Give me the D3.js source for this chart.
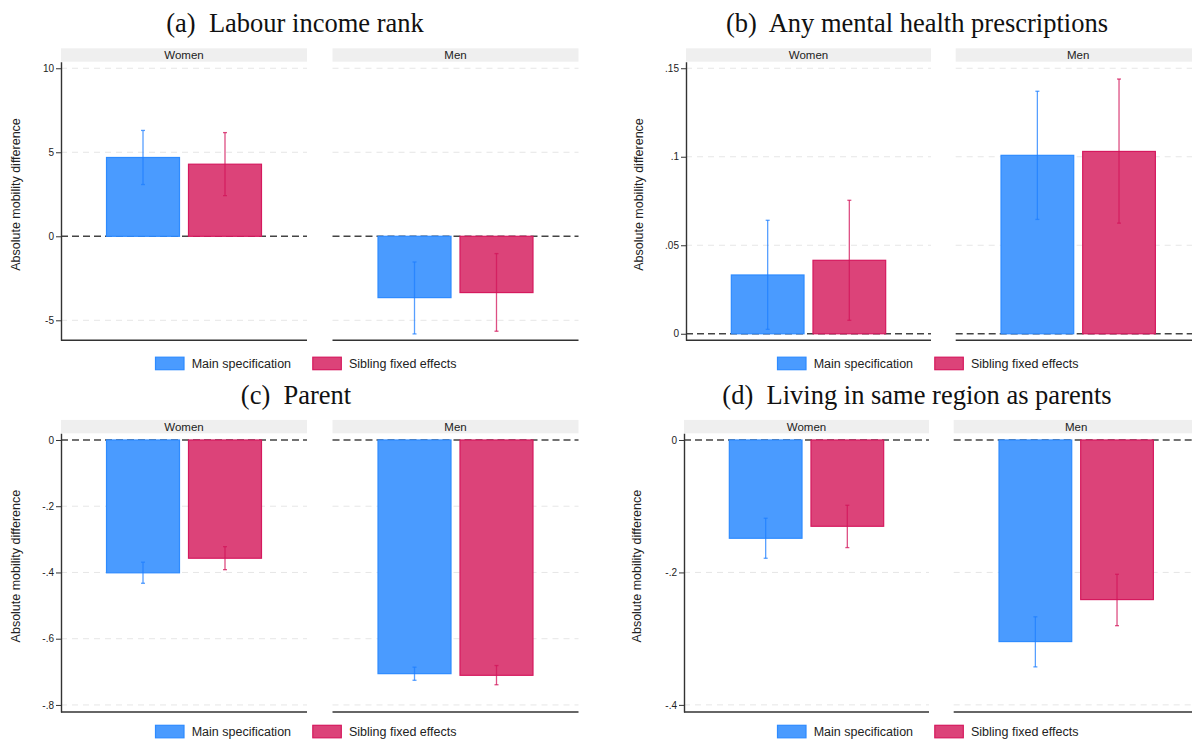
<!DOCTYPE html>
<html><head><meta charset="utf-8">
<script src="https://cdn.jsdelivr.net/npm/d3@7"></script>
<style>html,body{margin:0;padding:0;background:#fff;} svg{display:block;}</style>
</head><body><svg id="chart" width="1192" height="740"></svg>
<script>
// ---------- data ----------
const facets = ["Women", "Men"];
const seriesNames = ["Main specification", "Sibling fixed effects"];
const panelTitles = ["(a)  Labour income rank", "(b)  Any mental health prescriptions", "(c)  Parent", "(d)  Living in same region as parents"];
const yAxisTitle = "Absolute mobility difference";

// (a) Labour income rank  [Women, Men]
const incomeMain = [4.69, -3.65];
const incomeMainLow = [3.08, -5.81];
const incomeMainHigh = [6.30, -1.53];
const incomeSib = [4.29, -3.35];
const incomeSibLow = [2.42, -5.65];
const incomeSibHigh = [6.17, -1.03];
const incomeTicks = [-5, 0, 5, 10];
const incomeTickLabels = ["-5", "0", "5", "10"];
const incomeRange = [-6.19, 10.39];

// (b) Any mental health prescriptions
const mentalMain = [0.0332, 0.1008];
const mentalMainLow = [0.0025, 0.0646];
const mentalMainHigh = [0.0641, 0.1370];
const mentalSib = [0.0415, 0.1030];
const mentalSibLow = [0.0076, 0.0625];
const mentalSibHigh = [0.0754, 0.1439];
const mentalTicks = [0, 0.05, 0.1, 0.15];
const mentalTickLabels = ["0", ".05", ".1", ".15"];
const mentalRange = [-0.0037, 0.1537];

// (c) Parent
const parentMain = [-0.401, -0.7055];
const parentMainLow = [-0.4326, -0.7255];
const parentMainHigh = [-0.369, -0.686];
const parentSib = [-0.357, -0.7105];
const parentSibLow = [-0.3915, -0.739];
const parentSibHigh = [-0.322, -0.681];
const parentTicks = [-0.8, -0.6, -0.4, -0.2, 0];
const parentTickLabels = ["-.8", "-.6", "-.4", "-.2", "0"];
const parentRange = [-0.821, 0.0202];

// (d) Living in same region as parents
const regionMain = [-0.1484, -0.3044];
const regionMainLow = [-0.1786, -0.3426];
const regionMainHigh = [-0.1182, -0.267];
const regionSib = [-0.1303, -0.241];
const regionSibLow = [-0.1625, -0.2804];
const regionSibHigh = [-0.0986, -0.2028];
const regionTicks = [-0.4, -0.2, 0];
const regionTickLabels = ["-.4", "-.2", "0"];
const regionRange = [-0.4106, 0.0101];

// ---------- assemble ----------
const panels = [
  {title: panelTitles[0], series: [[incomeMain, incomeMainLow, incomeMainHigh], [incomeSib, incomeSibLow, incomeSibHigh]], ticks: incomeTicks, labels: incomeTickLabels, range: incomeRange},
  {title: panelTitles[1], series: [[mentalMain, mentalMainLow, mentalMainHigh], [mentalSib, mentalSibLow, mentalSibHigh]], ticks: mentalTicks, labels: mentalTickLabels, range: mentalRange},
  {title: panelTitles[2], series: [[parentMain, parentMainLow, parentMainHigh], [parentSib, parentSibLow, parentSibHigh]], ticks: parentTicks, labels: parentTickLabels, range: parentRange},
  {title: panelTitles[3], series: [[regionMain, regionMainLow, regionMainHigh], [regionSib, regionSibLow, regionSibHigh]], ticks: regionTicks, labels: regionTickLabels, range: regionRange}
];

// layout (positions only)
const layout = [
  {axisX: 61,  menX: 332.5, fw: 246, rowY: 0,     titleCX: 295, ytitleX: 16,    legendX: 155, legendDY: 0},
  {axisX: 686, menX: 955.7, fw: 245, rowY: 0,     titleCX: 917, ytitleX: 638.5, legendX: 777, legendDY: 0},
  {axisX: 61,  menX: 332.5, fw: 246, rowY: 371.6, titleCX: 296, ytitleX: 16,    legendX: 155, legendDY: -3.5},
  {axisX: 684, menX: 953.7, fw: 245, rowY: 371.6, titleCX: 917, ytitleX: 636.5, legendX: 777, legendDY: -3.5}
];

const fills = ["#4a9bff", "#dc4379"];
const strokes = ["#2e8bff", "#d5195e"];
const errCols = ["#1f7fff", "#d2145a"];
const SANS = "'Liberation Sans', Arial, sans-serif";
const SERIF = "'Liberation Serif', 'Times New Roman', serif";

const svg = d3.select("#chart");

panels.forEach((p, pi) => {
  const L = layout[pi];
  const g = svg.append("g");
  const top = L.rowY + 61.7, bottom = L.rowY + 340.3;
  const y = d3.scaleLinear().domain(p.range).range([bottom, top]);

  // title
  g.append("text").attr("x", L.titleCX).attr("y", L.rowY + 32)
    .attr("text-anchor", "middle").style("white-space", "pre")
    .attr("font-family", SERIF).attr("font-size", 26.5).attr("fill", "#111")
    .text(p.title);

  facets.forEach((f, fi) => {
    const fx = fi === 0 ? L.axisX : L.menX;
    const fg = g.append("g");
    // strip
    fg.append("rect").attr("x", fx).attr("y", L.rowY + 48.3).attr("width", L.fw).attr("height", 13.4).attr("fill", "#efefef");
    fg.append("text").attr("x", fx + L.fw / 2).attr("y", L.rowY + 55.2)
      .attr("text-anchor", "middle").attr("dominant-baseline", "central")
      .attr("font-family", SANS).attr("font-size", 11.5).attr("fill", "#222").text(f);
    // gridlines
    fg.selectAll("line.grid").data(p.ticks.filter(t => t !== 0)).join("line")
      .attr("class", "grid")
      .attr("x1", fx).attr("x2", fx + L.fw)
      .attr("y1", d => y(d)).attr("y2", d => y(d))
      .attr("stroke", "#e6e6e6").attr("stroke-width", 1).attr("stroke-dasharray", "6,5");
    // zero line
    fg.append("line").attr("x1", fx).attr("x2", fx + L.fw).attr("y1", y(0)).attr("y2", y(0))
      .attr("stroke", "#444").attr("stroke-width", 1.4).attr("stroke-dasharray", "7,4");
    // bottom axis
    fg.append("line").attr("x1", fx).attr("x2", fx + L.fw).attr("y1", bottom).attr("y2", bottom)
      .attr("stroke", "#333").attr("stroke-width", 1.5);

    const xb = d3.scaleBand().domain(seriesNames).range([fx, fx + L.fw]).paddingInner(0.0976).paddingOuter(0.549);
    const bw = xb.bandwidth();
    p.series.forEach((s, si) => {
      const v = s[0][fi];
      const x0 = xb(seriesNames[si]);
      fg.append("rect").attr("x", x0 + 0.5).attr("y", Math.min(y(v), y(0)))
        .attr("width", bw - 1).attr("height", Math.abs(y(v) - y(0)))
        .attr("fill", fills[si]).attr("stroke", strokes[si]).attr("stroke-width", 1.2);
    });
    p.series.forEach((s, si) => {
      const lo = s[1][fi], hi = s[2][fi];
      const cx = xb(seriesNames[si]) + bw / 2;
      const eg = fg.append("g").attr("stroke", errCols[si]).attr("stroke-opacity", 0.75).attr("stroke-width", 1.3);
      eg.append("line").attr("x1", cx).attr("x2", cx).attr("y1", y(lo)).attr("y2", y(hi));
      eg.append("line").attr("x1", cx - 2).attr("x2", cx + 2).attr("y1", y(lo)).attr("y2", y(lo));
      eg.append("line").attr("x1", cx - 2).attr("x2", cx + 2).attr("y1", y(hi)).attr("y2", y(hi));
    });
  });

  // y axis
  const ax = g.append("g").attr("transform", `translate(${L.axisX},0)`)
    .call(d3.axisLeft(y).tickValues(p.ticks).tickFormat((d, i) => p.labels[i]).tickSize(5).tickSizeOuter(0).tickPadding(2));
  ax.select(".domain").attr("stroke", "#333").attr("stroke-width", 1.4);
  ax.selectAll(".tick line").attr("stroke", "#333").attr("stroke-width", 1);
  ax.selectAll(".tick text").attr("font-family", SANS).attr("font-size", 10).attr("fill", "#222");

  // y title
  g.append("text").attr("transform", `translate(${L.ytitleX},${L.rowY + 194.5}) rotate(-90)`)
    .attr("text-anchor", "middle").attr("dominant-baseline", "central")
    .attr("font-family", SANS).attr("font-size", 12.5).attr("fill", "#222").text(yAxisTitle);

  // legend
  seriesNames.forEach((n, si) => {
    const lx = L.legendX + si * 157.3;
    const ly = L.rowY + L.legendDY;
    g.append("rect").attr("x", lx + 0.5).attr("y", ly + 357.2).attr("width", 28.5).attr("height", 12.5)
      .attr("fill", fills[si]).attr("stroke", strokes[si]).attr("stroke-width", 1.2);
    g.append("text").attr("x", lx + 36.7).attr("y", ly + 363.5).attr("dominant-baseline", "central")
      .attr("font-family", SANS).attr("font-size", 12.5).attr("fill", "#222").text(n);
  });
});
</script></body></html>
